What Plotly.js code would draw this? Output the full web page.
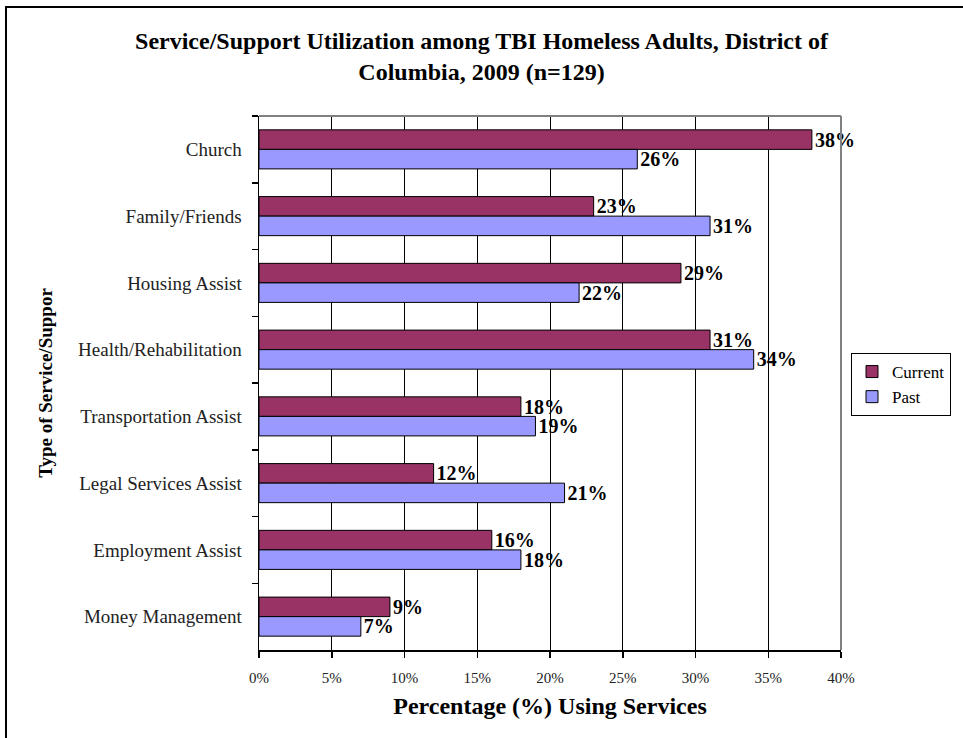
<!DOCTYPE html>
<html>
<head>
<meta charset="utf-8">
<script src="https://cdn.plot.ly/plotly-3.0.1.min.js"></script>
<style>
html,body{margin:0;padding:0;background:#fff;overflow:hidden;}
#wrap{position:relative;width:963px;height:738px;overflow:hidden;}
#chart{position:absolute;left:0;top:0;width:963px;height:738px;}
#frame{position:absolute;left:5px;top:6px;width:1100px;height:900px;border-left:2px solid #000;border-top:2px solid #000;pointer-events:none;z-index:10;}
</style>
</head>
<body>
<div id="wrap">
<div id="chart"></div>
<div id="frame"></div>
</div>
<script>
var categories = ["Church", "Family/Friends", "Housing Assist", "Health/Rehabilitation",
  "Transportation Assist", "Legal Services Assist", "Employment Assist", "Money Management"];
var currentValues = [38, 23, 29, 31, 18, 12, 16, 9];
var pastValues = [26, 31, 22, 34, 19, 21, 18, 7];
var seriesNames = ["Current", "Past"];
var xTickVals = [0, 5, 10, 15, 20, 25, 30, 35, 40];
var xTickText = xTickVals.map(function(v){return v + "%";});

var serif = "Liberation Serif, Times New Roman, serif";
var labelFont = {family: serif, size: 20, color: "#000"};

var traces = [
  {
    type: "bar", orientation: "h", name: seriesNames[0],
    y: categories, x: currentValues,
    marker: {color: "#993366", line: {color: "#000", width: 1}},
    text: currentValues.map(function(v){return "<b>" + v + "%</b>";}),
    textposition: "outside", constraintext: "none", textfont: labelFont, cliponaxis: false,
    hoverinfo: "x+y"
  },
  {
    type: "bar", orientation: "h", name: seriesNames[1],
    y: categories, x: pastValues,
    marker: {color: "#9999FF", line: {color: "#000", width: 1}},
    text: pastValues.map(function(v){return "<b>" + v + "%</b>";}),
    textposition: "outside", constraintext: "none", textfont: labelFont, cliponaxis: false,
    hoverinfo: "x+y"
  }
];

var L = 259, R = 122, T = 116, B = 88, W = 963, H = 738;

var layout = {
  width: W, height: H,
  margin: {l: L, r: R, t: T, b: B, pad: 0, autoexpand: false},
  paper_bgcolor: "#fff", plot_bgcolor: "#fff",
  font: {family: serif, color: "#000"},
  barmode: "group", bargap: 0.415, bargroupgap: 0,
  showlegend: true,
  title: {
    text: "<b>Service/Support Utilization among TBI Homeless Adults, District of<br>Columbia, 2009 (n=129)</b>",
    font: {family: serif, size: 24, color: "#000"},
    x: 0.5, xref: "container", xanchor: "center",
    y: 1 - 49 / H, yref: "container", yanchor: "middle"
  },
  xaxis: {
    range: [0, 40], tickvals: xTickVals, ticktext: xTickText,
    showgrid: true, gridcolor: "#000", gridwidth: 1,
    zeroline: false,
    showline: true, linecolor: "#000", linewidth: 1.5,
    ticks: "outside", ticklen: 6, tickcolor: "#000", tickwidth: 1.5,
    tickfont: {family: serif, size: 15, color: "#222"},
    ticklabelstandoff: 7,
    title: {text: "<b>Percentage (%) Using Services</b>", font: {family: serif, size: 24, color: "#000"}, standoff: 12},
    fixedrange: true
  },
  yaxis: {
    type: "category", autorange: "reversed",
    tickson: "boundaries",
    showgrid: false, zeroline: false,
    showline: true, linecolor: "#000", linewidth: 1.5,
    ticks: "outside", ticklen: 6, tickcolor: "#000", tickwidth: 1.5,
    tickfont: {family: serif, size: 19, color: "#222"},
    ticklabelstandoff: 12,
    title: {text: "<b>Type of Service/Suppor</b>", font: {family: serif, size: 19, color: "#000"}, standoff: 20},
    fixedrange: true
  },
  legend: {
    xref: "container", yref: "container",
    x: 851 / W, y: 1 - 353 / H, xanchor: "left", yanchor: "top",
    bgcolor: "#fff", bordercolor: "#000", borderwidth: 1,
    font: {family: serif, size: 17, color: "#000"},
    traceorder: "normal", itemwidth: 30
  },
  shapes: [
    {type: "line", xref: "paper", yref: "paper", x0: 0, x1: 1, y0: 1, y1: 1, line: {color: "#808080", width: 2}},
    {type: "line", xref: "paper", yref: "paper", x0: 1, x1: 1, y0: 0, y1: 1, line: {color: "#808080", width: 2}}
  ]
};

Plotly.newPlot("chart", traces, layout, {displayModeBar: false, staticPlot: true});
</script>
</body>
</html>
